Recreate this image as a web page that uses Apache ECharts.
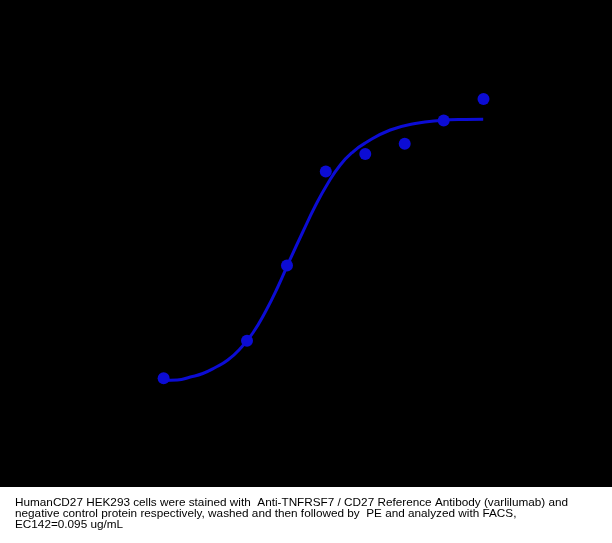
<!DOCTYPE html>
<html>
<head>
<meta charset="utf-8">
<script src="https://cdn.jsdelivr.net/npm/echarts@6/dist/echarts.min.js"></script>
<style>
  html, body { margin: 0; padding: 0; background: #000; }
  #chart { width: 612px; height: 543px; }
</style>
</head>
<body>
<div id="chart"></div>
<script>
// measured points (concentration ug/mL, MFI)
var conc = [0.001495, 0.01477, 0.04432, 0.1287, 0.3806, 1.126, 3.287, 9.808];
var mfi = [139, 264, 515, 828, 887, 921, 998, 1070];

// fitted curve
var fitConc = [0.001483, 0.002178, 0.003112, 0.004388, 0.006185, 0.00872, 0.01229, 0.01733,
               0.02442, 0.03443, 0.04852, 0.06839, 0.0964, 0.1359, 0.1916, 0.2701,
               0.3806, 0.7565, 1.503, 2.987, 5.934, 9.727];
var fitMfi = [131.7, 133.3, 143.3, 155, 175, 200, 238.3, 290,
              360, 443.3, 536.7, 626.7, 713.3, 788.3, 850, 893.3,
              923.3, 966.7, 988.3, 998.3, 1001.7, 1002.3];

var caption = [
    'HumanCD27 HEK293 cells were stained with  Anti-TNFRSF7 / CD27 Reference Antibody (varlilumab) and',
    'negative control protein respectively, washed and then followed by  PE and analyzed with FACS,',
    'EC142=0.095 ug/mL'
];

var blue = '#0c0cd4';

var myChart = echarts.init(document.getElementById('chart'));
var option = {
    backgroundColor: '#000',
    animation: false,
    grid: { left: 149, right: 44, top: 60, height: 360 },
    xAxis: {
        type: 'log',
        logBase: 10,
        min: 0.001,
        max: 100,
        axisLine: { show: false },
        axisTick: { show: false },
        axisLabel: { show: false },
        splitLine: { show: false }
    },
    yAxis: {
        type: 'value',
        min: 0,
        max: 1200,
        axisLine: { show: false },
        axisTick: { show: false },
        axisLabel: { show: false },
        splitLine: { show: false }
    },
    series: [{
        type: 'line',
        data: fitConc.map(function (c, i) { return [c, fitMfi[i]]; }),
        smooth: 0.5,
        showSymbol: false,
        lineStyle: { color: blue, width: 3 },
        z: 2
    }, {
        type: 'scatter',
        data: conc.map(function (c, i) { return [c, mfi[i]]; }),
        symbol: 'circle',
        symbolSize: 12,
        itemStyle: { color: blue, opacity: 1 },
        z: 3
    }],
    graphic: [{
        type: 'rect',
        shape: { x: 0, y: 487, width: 612, height: 56 },
        style: { fill: '#fff' },
        silent: true
    }, {
        type: 'text',
        x: 15,
        y: 497,
        style: {
            text: caption.join('\n'),
            font: '11.75px "Liberation Sans"',
            fill: '#000',
            lineHeight: 11.3,
            verticalAlign: 'top'
        },
        silent: true
    }]
};
myChart.setOption(option);
</script>
</body>
</html>
